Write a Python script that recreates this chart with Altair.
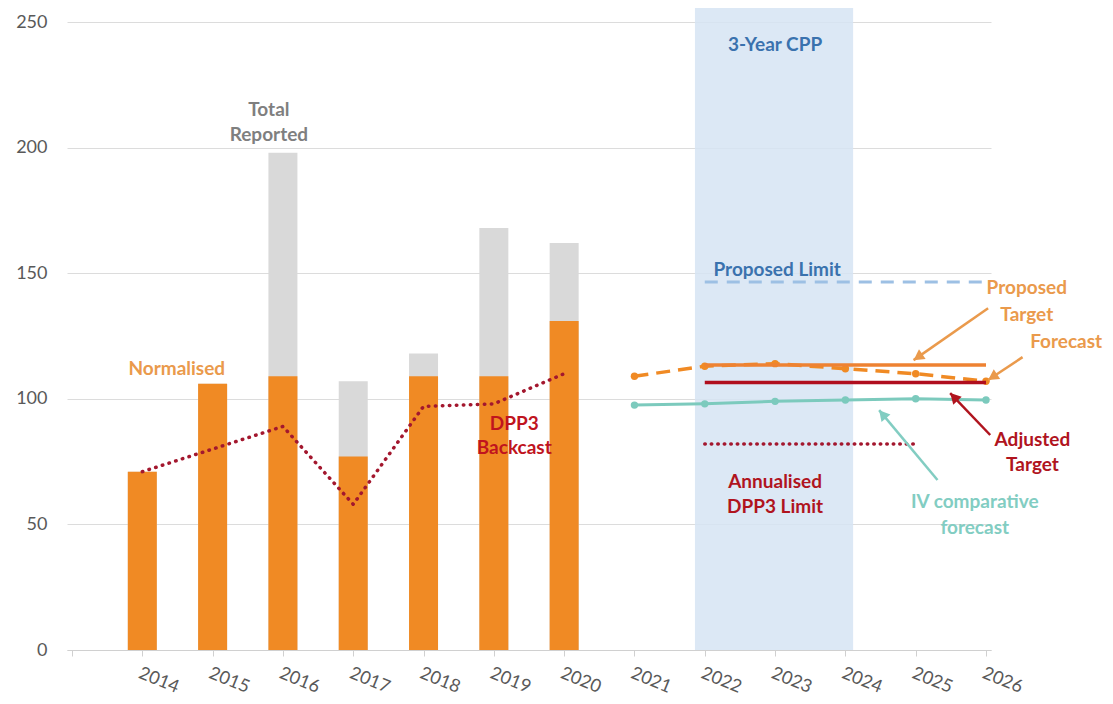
import math
import altair as alt
import pandas as pd

FONT = "Lato"

# ---------------- data ----------------
years_bar = [2014, 2015, 2016, 2017, 2018, 2019, 2020]
normalised = [71, 106, 109, 77, 109, 109, 131]
total_reported = [71, 106, 198, 107, 118, 168, 162]

dpp3_backcast = [71, 80, 89, 58, 97, 98, 110]

forecast_years = [2021, 2022, 2023, 2024, 2025, 2026]
forecast = [109, 113, 114, 112, 110, 107]
iv_forecast = [97.5, 98, 99, 99.5, 100, 99.5]

target_years = [2022, 2026]
proposed_target = [113.5, 113.5]
adjusted_target = [106.5, 106.5]
proposed_limit = [146.5, 146.5]
limit_years = [2022, 2025]
annualised_limit = [82, 82]

cpp_start, cpp_end = 2021.86, 2024.11
x_min, x_max = 2013, 2026
y_max = 255.6
tick_years = list(range(2013, 2027))
y_ticks = [0, 50, 100, 150, 200, 250]

ann_text = ["Total", "Reported", "Normalised", "DPP3", "Backcast", "3-Year CPP",
            "Proposed Limit", "Proposed", "Target", "Forecast", "Adjusted", "Target",
            "Annualised", "DPP3 Limit", "IV comparative", "forecast"]
ann_x = [2015.80, 2015.80, 2014.49, 2019.29, 2019.29, 2023.0,
         2023.03, 2026.58, 2026.58, 2027.14, 2026.66, 2026.66,
         2023.0, 2023.0, 2025.84, 2025.84]
ann_y = [215.0, 205.0, 112.0, 90.0, 80.4, 240.8,
         151.3, 144.0, 133.4, 122.6, 83.6, 73.6,
         66.9, 56.9, 58.9, 48.6]
ann_color = ["#7F7F7F", "#7F7F7F", "#EA9A4C", "#C0141E", "#C0141E", "#3A72AE",
             "#3A72AE", "#EA9A4C", "#EA9A4C", "#EA9A4C", "#B0141E", "#B0141E",
             "#B0141E", "#B0141E", "#82CDC2", "#82CDC2"]

arrow_tail_x = [2026.03, 2026.52, 2026.06, 2025.31]
arrow_tail_y = [136.1, 116.6, 85.6, 67.7]
arrow_head_x = [2024.97, 2026.03, 2025.49, 2024.48]
arrow_head_y = [115.4, 107.5, 102.3, 95.5]
arrow_color = ["#EA9A4C", "#EA9A4C", "#B0141E", "#82CDC2"]

# ---------------- geometry ----------------
W, H = 924, 642
sx = W / (x_max - x_min)
sy = H / y_max

ORANGE = "#F08A24"
DARKRED = "#A3172E"

xs = alt.Scale(domain=[x_min, x_max], nice=False, zero=False)
ys = alt.Scale(domain=[0, y_max], nice=False, zero=True)

x_axis = alt.Axis(values=tick_years, format="d",
                  labelExpr="datum.value == 2013 ? '' : datum.label",
                  grid=False, domainColor="#D0D0D0", tickColor="#D0D0D0",
                  tickSize=6, labelAngle=22, labelAlign="left", labelBaseline="top",
                  labelPadding=8, labelFontSize=18, labelColor="#595959",
                  labelFont=FONT, title=None)
y_axis = alt.Axis(values=y_ticks, grid=True, gridColor="#DCDCDC", domain=False,
                  ticks=False, labelPadding=20, labelFontSize=18,
                  labelColor="#595959", labelFont=FONT, title=None)


def X(f):
    return alt.X(f, type="quantitative", scale=xs, axis=x_axis)


def Y(f):
    return alt.Y(f, type="quantitative", scale=ys, axis=y_axis)


bars_df = pd.DataFrame({"year": years_bar, "normalised": normalised,
                        "total": total_reported, "backcast": dpp3_backcast})
fc_df = pd.DataFrame({"year": forecast_years, "forecast": forecast, "iv": iv_forecast})
tgt_df = pd.DataFrame({"year": target_years, "pt": proposed_target,
                       "at": adjusted_target, "pl": proposed_limit})
lim_df = pd.DataFrame({"year": limit_years, "al": annualised_limit})
shade_df = pd.DataFrame({"x0": [cpp_start], "x1": [cpp_end], "y0": [0], "y1": [y_max]})
ann_df = pd.DataFrame({"text": ann_text, "x": ann_x, "y": ann_y, "color": ann_color})

angles = []
for tx, ty, hx, hy in zip(arrow_tail_x, arrow_tail_y, arrow_head_x, arrow_head_y):
    dx = (hx - tx) * sx
    dy = -(hy - ty) * sy
    angles.append(math.degrees(math.atan2(dx, -dy)) % 360)
arr_df = pd.DataFrame({"tx": arrow_tail_x, "ty": arrow_tail_y, "hx": arrow_head_x,
                       "hy": arrow_head_y, "color": arrow_color, "angle": angles})

shade = alt.Chart(shade_df).mark_rect(color="#D6E4F3", opacity=0.85).encode(
    x=X("x0"), x2="x1", y=Y("y0"), y2="y1")

gray_bars = alt.Chart(bars_df).mark_bar(color="#D9D9D9", size=29).encode(
    x=X("year"), y=Y("total"))
orange_bars = alt.Chart(bars_df).mark_bar(color=ORANGE, size=29).encode(
    x=X("year"), y=Y("normalised"))

backcast = alt.Chart(bars_df).mark_line(color=DARKRED, strokeWidth=3.5,
                                        strokeDash=[0.5, 6.5], strokeCap="round").encode(
    x=X("year"), y=Y("backcast"))

plimit = alt.Chart(tgt_df).mark_line(color="#9DC0E4", strokeWidth=3,
                                     strokeDash=[13, 9]).encode(x=X("year"), y=Y("pl"))

fc_line = alt.Chart(fc_df).mark_line(color=ORANGE, strokeWidth=3.5,
                                     strokeDash=[14, 8]).encode(x=X("year"), y=Y("forecast"))
fc_pts = alt.Chart(fc_df).mark_point(color=ORANGE, filled=True, opacity=1, size=55).encode(
    x=X("year"), y=Y("forecast"))

ptarget = alt.Chart(tgt_df).mark_line(color="#EE8232", strokeWidth=3.5).encode(
    x=X("year"), y=Y("pt"))
atarget = alt.Chart(tgt_df).mark_line(color="#B00E1E", strokeWidth=3.5).encode(
    x=X("year"), y=Y("at"))

iv_line = alt.Chart(fc_df).mark_line(color="#7CCABD", strokeWidth=3).encode(
    x=X("year"), y=Y("iv"))
iv_pts = alt.Chart(fc_df).mark_point(color="#7CCABD", filled=True, opacity=1, size=55).encode(
    x=X("year"), y=Y("iv"))

alimit = alt.Chart(lim_df).mark_line(color=DARKRED, strokeWidth=3.5,
                                     strokeDash=[0.5, 6], strokeCap="round").encode(
    x=X("year"), y=Y("al"))

texts = alt.Chart(ann_df).mark_text(font=FONT, fontWeight="bold", fontSize=19,
                                    align="center", baseline="middle").encode(
    x=X("x"), y=Y("y"), text="text:N", color=alt.Color("color:N", scale=None))

arr_lines = alt.Chart(arr_df).mark_rule(strokeWidth=2.5).encode(
    x=X("tx"), x2="hx", y=Y("ty"), y2="hy", color=alt.Color("color:N", scale=None))
arr_heads = alt.Chart(arr_df).mark_point(shape="M0,0L-0.55,1L0.55,1Z", filled=True,
                                         opacity=1, size=450).encode(
    x=X("hx"), y=Y("hy"), color=alt.Color("color:N", scale=None),
    angle=alt.Angle("angle:Q", scale=None))

chart = alt.layer(shade, gray_bars, orange_bars, backcast, plimit, fc_line, fc_pts,
                  ptarget, atarget, iv_line, iv_pts, alimit, texts, arr_lines, arr_heads
                  ).properties(
    width=W, height=H,
    autosize=alt.AutoSizeParams(type="none"),
    padding={"left": 59, "top": 0, "right": 114, "bottom": 46},
    background="white",
).configure_view(stroke=None)

chart.save("out.html", embed_options={"renderer": "svg", "actions": False})
